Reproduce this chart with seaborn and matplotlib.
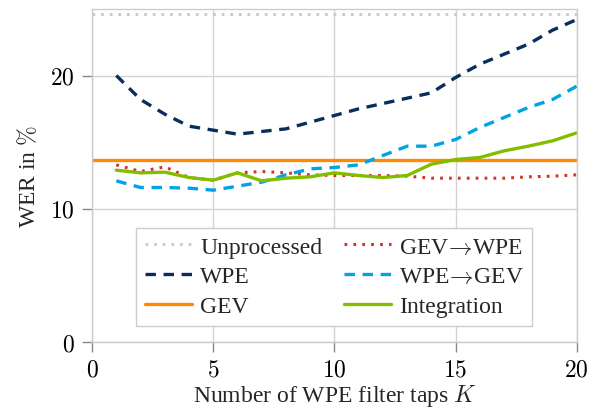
import numpy as np
import pandas as pd
import matplotlib
matplotlib.use("Agg")
import matplotlib.pyplot as plt
import seaborn as sns

K = list(range(1, 21))
unprocessed = 24.6
gev = 13.7
wpe = [20.0, 18.2, 17.1, 16.2, 15.9, 15.6, 15.8, 16.0, 16.5, 17.0,
       17.5, 17.9, 18.3, 18.7, 19.85, 20.85, 21.6, 22.35, 23.4, 24.2]
wpe_gev = [12.1, 11.6, 11.6, 11.55, 11.4, 11.7, 12.0, 12.55, 13.0, 13.1,
           13.3, 14.0, 14.7, 14.7, 15.2, 16.1, 16.85, 17.6, 18.2, 19.2]
integration = [12.9, 12.7, 12.75, 12.35, 12.15, 12.7, 12.1, 12.3, 12.4, 12.7,
               12.5, 12.35, 12.5, 13.35, 13.7, 13.85, 14.35, 14.7, 15.1, 15.7]
gev_wpe = [13.3, 12.8, 13.15, 12.35, 12.15, 12.7, 12.8, 12.7, 12.55, 12.5,
           12.5, 12.5, 12.45, 12.3, 12.3, 12.3, 12.3, 12.4, 12.45, 12.55]
xticks = [0, 5, 10, 15, 20]
yticks = [0, 10, 20]

sns.set_theme(style="whitegrid")
plt.rcParams['font.family'] = ['Liberation Serif', 'DejaVu Serif']
plt.rcParams['mathtext.fontset'] = 'cm'
plt.rcParams['lines.scale_dashes'] = False

fig = plt.figure(figsize=(5.94, 4.10), dpi=100)
ax = fig.add_axes([0.155, 0.163, 0.816, 0.813])

FS = 17
ext = [0, 20]

sns.lineplot(x=ext, y=[unprocessed, unprocessed], ax=ax, color='#c8c8c8', lw=2.0,
             linestyle=(0, (2.0, 4.2)), label='Unprocessed')
sns.lineplot(x=K, y=wpe, ax=ax, color='#0a2d5f', lw=2.4,
             linestyle=(0, (7.5, 5.5)), label='WPE')
sns.lineplot(x=ext, y=[gev, gev], ax=ax, color='#ff8a00', lw=2.4,
             linestyle='-', label='GEV')
sns.lineplot(x=K, y=gev_wpe, ax=ax, color='#d0352b', lw=2.2,
             linestyle=(0, (2.0, 4.4)), label=r'GEV$\!\rightarrow\!$WPE')
sns.lineplot(x=K, y=wpe_gev, ax=ax, color='#00a4e4', lw=2.4,
             linestyle=(0, (7.5, 5.5)), label=r'WPE$\!\rightarrow\!$GEV')
sns.lineplot(x=K, y=integration, ax=ax, color='#84bd00', lw=2.4,
             linestyle='-', label='Integration')

ax.set_xlim(0, 20)
ax.set_ylim(0, 25)
ax.set_xticks(xticks)
ax.set_yticks(yticks)
ax.set_xticklabels([f'${t}$' for t in xticks], fontsize=FS)
ax.set_yticklabels([f'${t}$' for t in yticks], fontsize=FS)
ax.grid(True, color='#d4d4d4', lw=1.0)
for s in ax.spines.values():
    s.set_visible(True)
    s.set_color('#cccccc')
    s.set_linewidth(1.0)
ax.tick_params(axis='both', which='major', direction='out', length=7.5,
               width=1.0, color='#888888', pad=5, labelcolor='black',
               bottom=True, left=True)
ax.set_xlabel('Number of WPE filter taps $K$', fontsize=FS, labelpad=1)
ax.set_ylabel(r'WER in $\%$', fontsize=FS, labelpad=7)

handles, labels = ax.get_legend_handles_labels()
leg = ax.legend(handles, labels,
                ncol=2, loc='lower center', bbox_to_anchor=(0.5, 0.05),
                borderaxespad=0,
                fontsize=FS, frameon=True, fancybox=False, framealpha=1,
                edgecolor='#cccccc', handlelength=2.0, handletextpad=0.35,
                columnspacing=0.9, labelspacing=0.35, borderpad=0.35)
leg.get_frame().set_linewidth(1.0)

fig.savefig('out.png', dpi=100)
